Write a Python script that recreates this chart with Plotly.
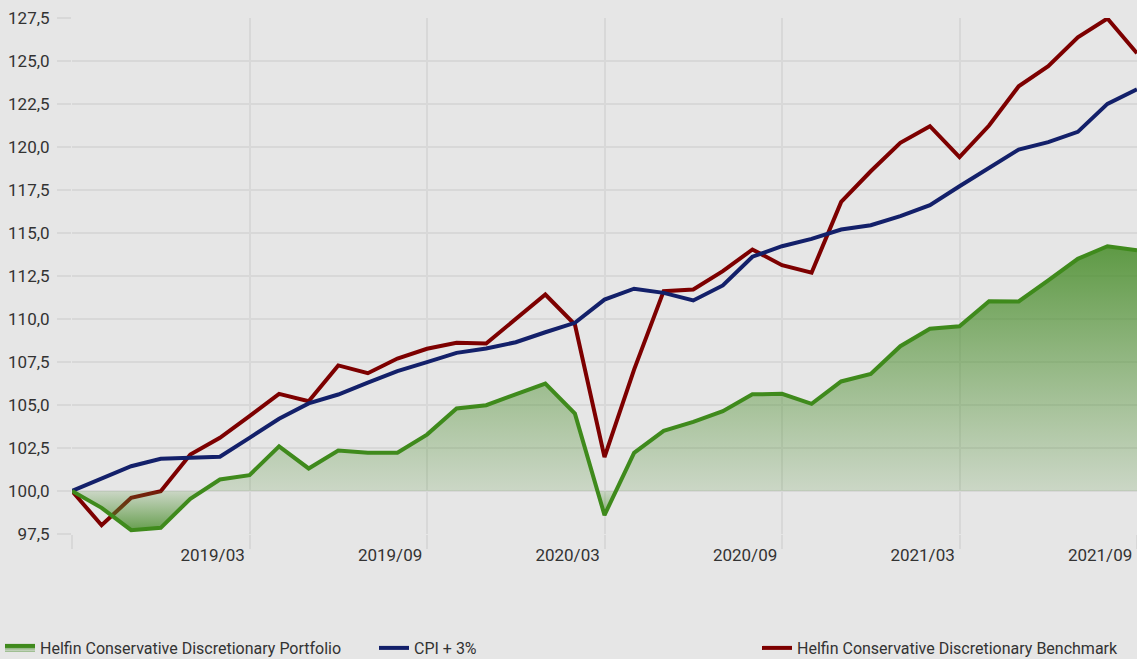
import plotly.graph_objects as go

months = ["2018/09", "2018/10", "2018/11", "2018/12", "2019/01", "2019/02", "2019/03",
          "2019/04", "2019/05", "2019/06", "2019/07", "2019/08", "2019/09", "2019/10",
          "2019/11", "2019/12", "2020/01", "2020/02", "2020/03", "2020/04", "2020/05",
          "2020/06", "2020/07", "2020/08", "2020/09", "2020/10", "2020/11", "2020/12",
          "2021/01", "2021/02", "2021/03", "2021/04", "2021/05", "2021/06", "2021/07",
          "2021/08", "2021/09"]

portfolio = [100.0, 99.02, 97.72, 97.86, 99.55, 100.67, 100.92, 102.6, 101.31, 102.35,
             102.22, 102.22, 103.28, 104.8, 104.99, 105.6, 106.25, 104.5, 98.6, 102.22,
             103.5, 104.02, 104.64, 105.62, 105.65, 105.07, 106.37, 106.81, 108.42, 109.43,
             109.58, 111.03, 111.02, 112.25, 113.5, 114.23, 114.0]

cpi_plus_3 = [100.0, 100.73, 101.44, 101.87, 101.95, 101.99, 103.09, 104.2, 105.09, 105.61,
              106.3, 106.97, 107.49, 108.03, 108.28, 108.65, 109.23, 109.78, 111.13, 111.76,
              111.52, 111.08, 111.95, 113.62, 114.23, 114.66, 115.2, 115.45, 115.98, 116.62,
              117.72, 118.79, 119.85, 120.28, 120.88, 122.51, 123.35]

benchmark = [100.0, 98.01, 99.6, 99.99, 102.12, 103.09, 104.35, 105.65, 105.22, 107.3,
             106.85, 107.7, 108.27, 108.62, 108.58, 109.97, 111.42, 109.68, 101.97, 107.06,
             111.62, 111.72, 112.78, 114.04, 113.13, 112.69, 116.81, 118.59, 120.24, 121.21,
             119.41, 121.25, 123.53, 124.7, 126.38, 127.47, 125.45]

base_value = 100.0
baseline = [base_value] * len(months)

tick_months = ["2018/09", "2019/03", "2019/09", "2020/03", "2020/09", "2021/03", "2021/09"]
tick_text = ["", "2019/03", "2019/09", "2020/03", "2020/09", "2021/03", "2021/09"]

names = ["Helfin Conservative Discretionary Portfolio", "CPI + 3%",
         "Helfin Conservative Discretionary Benchmark"]

FONT = "Roboto, Liberation Sans Narrow, sans-serif"
BG = "#e6e6e6"
GRID = "#d8d8d8"
RED = "#7d0000"
NAVY = "#13206a"
GREEN = "#3f8a1c"

W, H = 1137, 659

fig = go.Figure()

fig.add_trace(go.Scatter(x=months, y=benchmark, mode="lines", name=names[2],
                         line=dict(color=RED, width=4), legend="legend3"))
fig.add_trace(go.Scatter(x=months, y=cpi_plus_3, mode="lines", name=names[1],
                         line=dict(color=NAVY, width=4), legend="legend2"))
fig.add_trace(go.Scatter(x=months, y=baseline, mode="lines", line=dict(width=0),
                         showlegend=False, hoverinfo="skip"))

lo = min(portfolio)
hi = max(portfolio)
frac = (base_value - lo) / (hi - lo)
fig.add_trace(go.Scatter(
    x=months, y=portfolio, mode="lines", name=names[0], legend="legend",
    line=dict(color=GREEN, width=4), fill="tonexty",
    fillgradient=dict(type="vertical", start=lo, stop=hi,
                      colorscale=[[0, "rgba(70,140,40,0.8)"],
                                  [frac, "rgba(80,145,50,0.18)"],
                                  [1, "rgba(70,140,40,0.85)"]])))

legend_common = dict(orientation="h", xref="container", yref="container",
                     xanchor="left", yanchor="middle", bgcolor="rgba(0,0,0,0)",
                     font=dict(family=FONT, size=16, color="#333333"),
                     itemclick=False, itemdoubleclick=False)
legend_y = 1 - 648 / H

fig.update_layout(
    width=W, height=H,
    paper_bgcolor=BG, plot_bgcolor=BG,
    margin=dict(l=72, r=0, t=18, b=125),
    separators=",.",
    font=dict(family=FONT, size=16, color="#333333"),
    legend=dict(legend_common, x=0, y=legend_y),
    legend2=dict(legend_common, x=374 / W, y=legend_y),
    legend3=dict(legend_common, x=757 / W, y=legend_y),
    xaxis=dict(type="category", range=[0, 36], tickmode="array",
               tickvals=tick_months, ticktext=tick_text,
               showgrid=True, gridcolor=GRID, gridwidth=1.5,
               ticks="outside", ticklen=14, tickcolor=GRID, tickwidth=1.5,
               ticklabelposition="outside left", ticklabelshift=-4,
               ticklabelstandoff=6, tickfont=dict(size=17),
               showline=False, zeroline=False),
    yaxis=dict(range=[97.5, 127.5], tick0=97.5, dtick=2.5, tickformat=".1f",
               showgrid=True, gridcolor=GRID, gridwidth=1.5,
               ticks="outside", ticklen=14, tickcolor=GRID, tickwidth=1.5,
               ticklabelstandoff=4, tickfont=dict(size=17),
               showline=False, zeroline=False),
)

fig.write_html("out.html", config={"displayModeBar": False},
               post_script="document.body.style.margin='0';document.body.style.padding='0';"
                           "document.body.style.overflow='hidden';")
